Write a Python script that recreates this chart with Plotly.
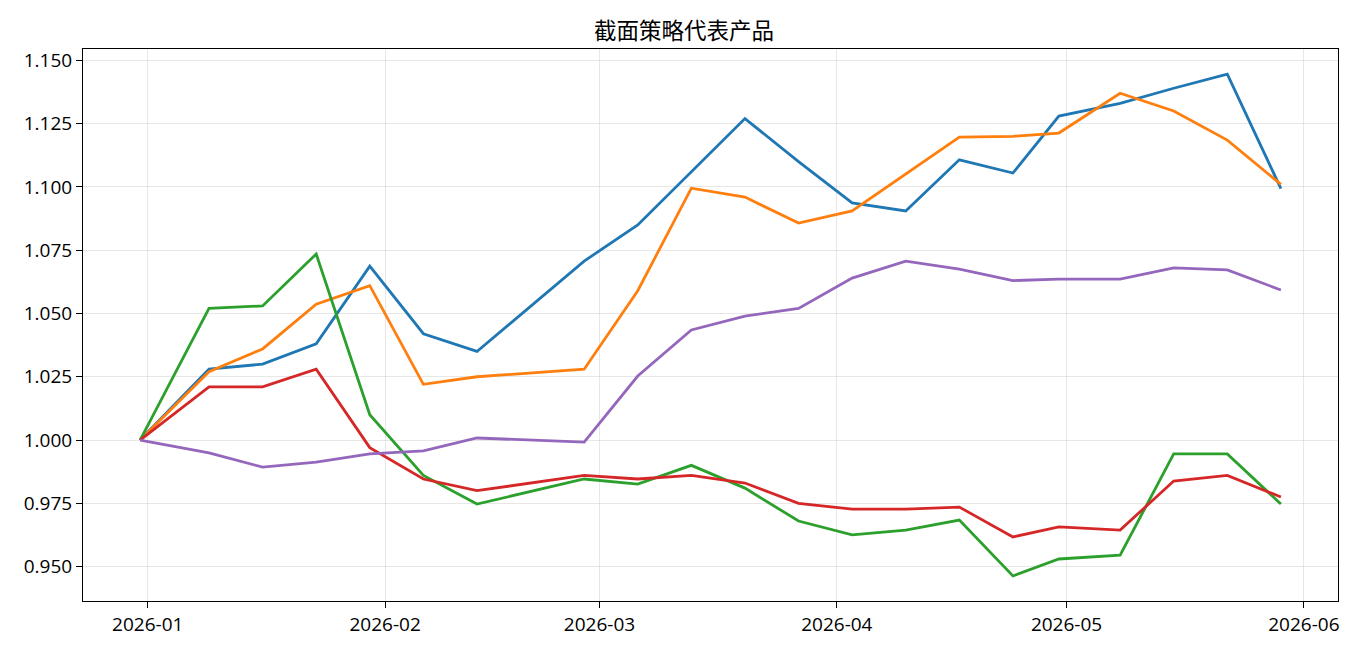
import plotly.graph_objects as go

dates = ["2025-12-31", "2026-01-09", "2026-01-16", "2026-01-23", "2026-01-30",
         "2026-02-06", "2026-02-13", "2026-02-27", "2026-03-06", "2026-03-13",
         "2026-03-20", "2026-03-27", "2026-04-03", "2026-04-10", "2026-04-17",
         "2026-04-24", "2026-04-30", "2026-05-08", "2026-05-15", "2026-05-22",
         "2026-05-29"]

s_blue = [1.000, 1.028, 1.030, 1.038, 1.0687, 1.042, 1.035, 1.0707, 1.085, 1.106,
          1.127, 1.110, 1.0937, 1.0905, 1.1107, 1.1055, 1.128, 1.133, 1.139, 1.1446, 1.0993]
s_orange = [1.000, 1.027, 1.036, 1.0537, 1.061, 1.022, 1.025, 1.028, 1.059, 1.0995,
            1.096, 1.0857, 1.0905, 1.105, 1.1197, 1.120, 1.1213, 1.137, 1.130, 1.1185, 1.101]
s_green = [1.000, 1.052, 1.053, 1.0735, 1.010, 0.986, 0.9747, 0.9846, 0.9826, 0.990,
           0.981, 0.968, 0.9625, 0.9644, 0.9684, 0.9463, 0.953, 0.9545, 0.9945, 0.9945, 0.9747]
s_red = [1.000, 1.021, 1.021, 1.028, 0.997, 0.9846, 0.980, 0.986, 0.9846, 0.986,
         0.983, 0.975, 0.9727, 0.9727, 0.9735, 0.9617, 0.9657, 0.9644, 0.9838, 0.986, 0.9775]
s_purple = [1.000, 0.9949, 0.9893, 0.9913, 0.9945, 0.9957, 1.0008, 0.9992, 1.0253, 1.0435,
            1.049, 1.052, 1.064, 1.0707, 1.0675, 1.063, 1.0636, 1.0636, 1.068, 1.0672, 1.0593]

series = [s_blue, s_orange, s_green, s_red, s_purple]
colors = ["#1f77b4", "#ff7f0e", "#2ca02c", "#d62728", "#9467bd"]

y_ticks = [0.950, 0.975, 1.000, 1.025, 1.050, 1.075, 1.100, 1.125, 1.150]
x_ticks = ["2026-01-01", "2026-02-01", "2026-03-01", "2026-04-01", "2026-05-01", "2026-06-01"]
x_ticklabels = ["2026-01", "2026-02", "2026-03", "2026-04", "2026-05", "2026-06"]

fig = go.Figure()
for s, c in zip(series, colors):
    fig.add_trace(go.Scatter(x=dates, y=s, mode="lines",
                             line=dict(color=c, width=2.8), showlegend=False))

font = "Noto Sans CJK SC"
tfont = "Open Sans"
fig.update_layout(
    width=1368, height=657,
    margin=dict(l=83, r=30, t=49, b=56),
    paper_bgcolor="white", plot_bgcolor="white",
    font=dict(family=tfont, size=19, color="black"),
    title=dict(text="截面策略代表产品", x=0.5, xanchor="center", y=1 - 31/657,
               yanchor="middle", font=dict(family=font, size=22.5, color="black")),
)
fig.update_xaxes(
    type="date", range=["2025-12-23 13:00", "2026-06-05 11:00"],
    tickvals=x_ticks, ticktext=x_ticklabels,
    showgrid=True, gridcolor="rgba(176,176,176,0.3)", gridwidth=1,
    showline=True, linecolor="black", linewidth=1, mirror=True,
    ticks="outside", ticklen=6, tickcolor="black", zeroline=False,
    tickfont=dict(family=tfont, size=19),
)
fig.update_yaxes(
    range=[0.9364, 1.1545],
    tickvals=y_ticks, ticktext=["%.3f" % v for v in y_ticks],
    showgrid=True, gridcolor="rgba(176,176,176,0.3)", gridwidth=1,
    showline=True, linecolor="black", linewidth=1, mirror=True,
    ticks="outside", ticklen=6, tickcolor="black", zeroline=False,
    tickfont=dict(family=tfont, size=19),
)

fig.write_html("out.html")
